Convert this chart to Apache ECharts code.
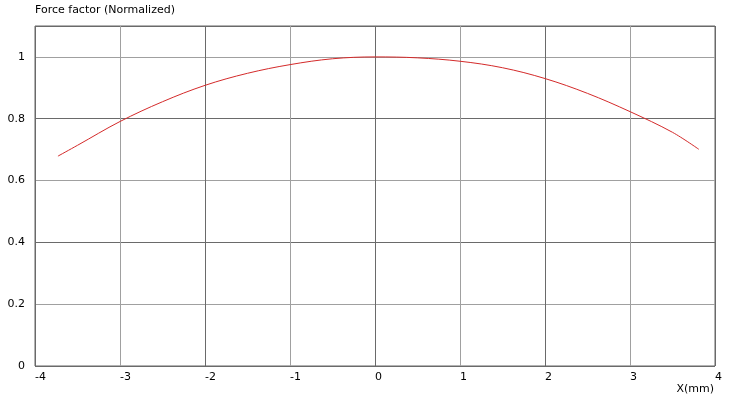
<!DOCTYPE html>
<html><head><meta charset="utf-8">
<script src="https://cdn.jsdelivr.net/npm/echarts@6/dist/echarts.min.js"></script>
<style>html,body{margin:0;padding:0;background:#fff}#c{width:729px;height:400px}</style>
</head><body><div id="c"></div>
<script>
const xValues = [-3.73, -3.5, -3, -2.5, -2, -1.5, -1, -0.5, 0, 0.5, 1, 1.5, 2, 2.5, 3, 3.5, 3.81];
const forceFactor = [0.679, 0.714, 0.791, 0.855, 0.908, 0.947, 0.975, 0.994, 1.0, 0.997, 0.986, 0.965, 0.930, 0.882, 0.823, 0.756, 0.701];
const yTitle = 'Force factor (Normalized)';
const xTitle = 'X(mm)';

const font = 'DejaVu Sans';
const chart = echarts.init(document.getElementById('c'), null, {renderer: 'canvas'});
chart.setOption({
  animation: false,
  backgroundColor: '#fff',
  title: [
    {text: yTitle, left: 30, top: 0, textStyle: {fontFamily: font, fontSize: 11, fontWeight: 'normal', color: '#000'}},
    {text: xTitle, right: 10, top: 379, textStyle: {fontFamily: font, fontSize: 11, fontWeight: 'normal', color: '#000'}}
  ],
  grid: {left: 35, right: 14, top: 26, bottom: 34, show: true, borderColor: '#666', borderWidth: 1, containLabel: false},
  xAxis: {
    type: 'value', min: -4, max: 4, interval: 1,
    axisLine: {show: false}, axisTick: {show: false},
    axisLabel: {align: 'left', margin: 6, color: '#000', fontFamily: font, fontSize: 11},
    splitLine: {show: true, lineStyle: {color: ['#6a6a6a', '#a0a0a0'], width: 1}}
  },
  yAxis: {
    type: 'value', min: 0, max: 1.1, interval: 0.2,
    axisLine: {show: false}, axisTick: {show: false},
    axisLabel: {margin: 10, color: '#000', fontFamily: font, fontSize: 11, showMaxLabel: false,
      formatter: v => (Math.abs(v - 1.1) < 1e-6 ? '' : String(Math.round(v * 10) / 10))},
    splitLine: {show: true, lineStyle: {color: ['#6a6a6a', '#a0a0a0'], width: 1}}
  },
  series: [{
    type: 'line', smooth: 0.35, showSymbol: false,
    data: xValues.map((x, i) => [x, forceFactor[i]]),
    lineStyle: {color: '#d42a2a', width: 1}
  }]
});
</script></body></html>
